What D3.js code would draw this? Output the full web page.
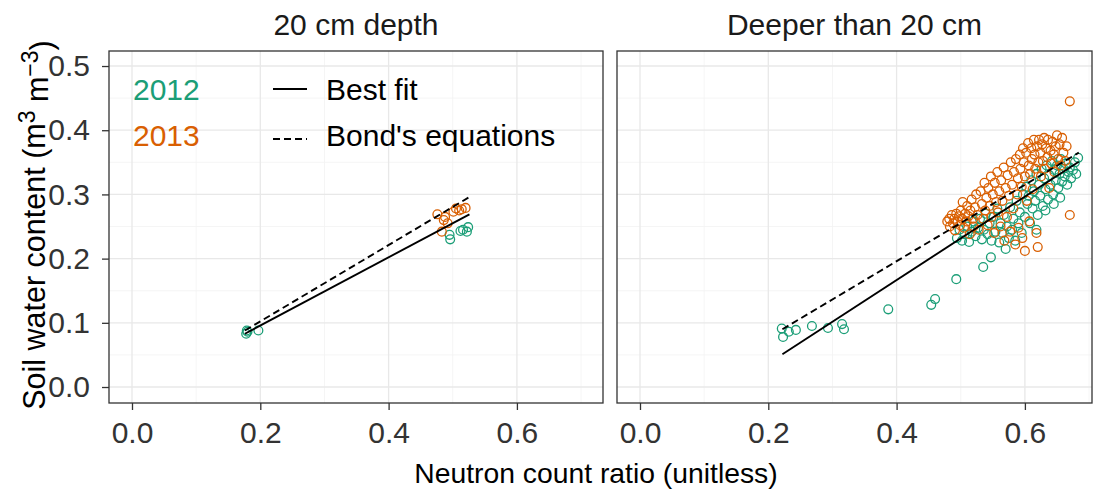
<!DOCTYPE html>
<html><head><meta charset="utf-8">
<script src="https://cdn.jsdelivr.net/npm/d3@7"></script>
<style>body{margin:0;background:#fff}svg{display:block}text{font-family:"Liberation Sans",Arial,sans-serif}</style>
</head><body>
<script>
// ---------- DATA ----------
const panelTitles = ["20 cm depth", "Deeper than 20 cm"];
const xTicks = [0.0, 0.2, 0.4, 0.6];
const yTicks = [0.0, 0.1, 0.2, 0.3, 0.4, 0.5];
const xMinor = [0.1, 0.3, 0.5, 0.7];
const yMinor = [0.05, 0.15, 0.25, 0.35, 0.45];
const years = ["2012", "2013"];
const lineLabels = ["Best fit", "Bond's equations"];

// left panel (20 cm depth)
const left2012 = [[0.178,0.083],[0.180,0.086],[0.179,0.088],[0.197,0.088],
  [0.495,0.237],[0.496,0.230],[0.516,0.245],[0.524,0.249],[0.522,0.242],[0.512,0.243]];
const left2013 = [[0.476,0.269],[0.488,0.265],[0.486,0.260],[0.505,0.278],[0.510,0.275],
  [0.514,0.277],[0.501,0.273],[0.483,0.242],[0.492,0.255],[0.520,0.279]];
const leftFit = [[0.176,0.083],[0.526,0.269]];
const leftBond = [[0.176,0.088],[0.526,0.296]];

// right panel (deeper than 20 cm)
const right2012 = [[0.221,0.091],[0.223,0.078],[0.232,0.086],[0.243,0.089],[0.268,0.095],[0.293,0.092],
  [0.315,0.098],[0.318,0.090],[0.387,0.121],[0.454,0.128],[0.460,0.137],[0.493,0.168],[0.535,0.187],[0.547,0.202],
  [0.494,0.232],[0.498,0.245],[0.502,0.228],[0.506,0.238],[0.510,0.250],[0.513,0.226],[0.517,0.242],[0.520,0.258],
  [0.523,0.235],[0.527,0.248],[0.530,0.262],[0.533,0.230],[0.536,0.245],[0.539,0.270],[0.542,0.238],[0.545,0.255],
  [0.548,0.228],[0.551,0.265],[0.554,0.242],[0.557,0.278],[0.560,0.225],[0.562,0.255],[0.565,0.240],[0.567,0.268],
  [0.570,0.215],[0.572,0.250],[0.575,0.232],[0.577,0.280],[0.580,0.245],[0.582,0.262],[0.585,0.228],[0.587,0.290],
  [0.590,0.255],[0.592,0.272],[0.595,0.240],[0.597,0.300],
  [0.600,0.265],[0.602,0.312],[0.604,0.285],[0.606,0.298],[0.608,0.255],[0.610,0.322],[0.612,0.278],[0.614,0.305],
  [0.616,0.290],[0.618,0.332],[0.620,0.268],[0.622,0.315],[0.624,0.298],[0.626,0.340],[0.628,0.282],[0.630,0.325],
  [0.632,0.308],[0.634,0.345],[0.636,0.292],[0.638,0.330],[0.640,0.315],[0.642,0.352],[0.644,0.300],[0.646,0.338],
  [0.648,0.322],[0.650,0.345],[0.652,0.310],[0.654,0.332],[0.656,0.355],[0.658,0.320],[0.660,0.340],[0.662,0.328],
  [0.664,0.348],[0.666,0.315],[0.668,0.335],[0.670,0.342],[0.672,0.325],[0.675,0.338],[0.678,0.350],[0.680,0.332],
  [0.683,0.357],[0.655,0.295],[0.632,0.275],[0.645,0.285],[0.618,0.245]];
const right2013 = [[0.479,0.258],[0.482,0.262],[0.483,0.250],[0.486,0.268],[0.488,0.255],[0.490,0.262],[0.491,0.244],
  [0.493,0.270],[0.495,0.258],[0.497,0.266],[0.499,0.252],[0.500,0.275],[0.502,0.262],[0.503,0.288],[0.505,0.248],
  [0.507,0.270],[0.509,0.258],[0.510,0.282],[0.512,0.266],[0.514,0.238],[0.515,0.275],[0.517,0.292],[0.519,0.262],
  [0.520,0.250],[0.522,0.280],[0.524,0.300],[0.526,0.268],[0.528,0.245],
  [0.531,0.305],[0.533,0.285],[0.535,0.262],[0.537,0.318],[0.538,0.275],[0.540,0.295],[0.542,0.252],[0.543,0.310],
  [0.545,0.282],[0.547,0.328],[0.548,0.265],[0.550,0.300],[0.552,0.240],[0.553,0.318],[0.555,0.288],[0.557,0.335],
  [0.558,0.272],[0.560,0.305],[0.562,0.250],[0.563,0.322],[0.565,0.290],[0.567,0.342],[0.568,0.228],[0.570,0.310],
  [0.572,0.265],[0.573,0.330],[0.575,0.298],[0.577,0.242],[0.578,0.350],[0.580,0.315],
  [0.582,0.278],[0.583,0.335],[0.585,0.222],[0.586,0.355],[0.588,0.300],[0.589,0.325],[0.590,0.248],[0.592,0.362],
  [0.593,0.340],[0.595,0.312],[0.596,0.232],[0.597,0.372],[0.598,0.350],[0.600,0.212],[0.600,0.328],[0.602,0.365],
  [0.603,0.290],[0.605,0.380],[0.606,0.345],[0.607,0.258],[0.608,0.332],[0.610,0.372],[0.611,0.355],[0.612,0.308],
  [0.614,0.385],[0.615,0.362],[0.616,0.340],[0.618,0.240],[0.619,0.375],[0.620,0.218],[0.621,0.350],[0.622,0.385],
  [0.624,0.365],[0.625,0.328],[0.627,0.378],[0.628,0.352],[0.630,0.388],[0.631,0.340],[0.633,0.372],[0.635,0.358],
  [0.636,0.385],[0.638,0.310],[0.640,0.368],[0.641,0.348],[0.643,0.382],[0.645,0.362],[0.646,0.335],[0.648,0.375],
  [0.650,0.392],[0.652,0.355],[0.654,0.378],[0.656,0.345],[0.658,0.388],[0.660,0.365],[0.663,0.352],[0.665,0.375],
  [0.670,0.445],[0.670,0.268]];
const rightFit = [[0.222,0.051],[0.684,0.351]];
const rightBond = [[0.222,0.090],[0.684,0.365]];

// ---------- LAYOUT ----------
const W = 1110, H = 496;
const colors = {"2012":"#1B9E77","2013":"#D95F02"};
const FONT = "Liberation Sans, Arial, sans-serif";
const svg = d3.select("body").append("svg").attr("width", W).attr("height", H);
svg.append("rect").attr("width", W).attr("height", H).attr("fill", "#fff");

const yScale = d3.scaleLinear().domain([-0.0249, 0.5234]).range([403, 51]);
const panels = [
  {title: panelTitles[0], x0: 109, x1: 603, dom: [-0.03585, 0.7342], p2012: left2012, p2013: left2013, fit: leftFit, bond: leftBond},
  {title: panelTitles[1], x0: 617, x1: 1092, dom: [-0.03585, 0.7046], p2012: right2012, p2013: right2013, fit: rightFit, bond: rightBond}
];

panels.forEach((p, i) => {
  const x = d3.scaleLinear().domain(p.dom).range([p.x0, p.x1]);
  const g = svg.append("g");
  const [yb, yt] = yScale.range();
  // minor grid
  g.selectAll(".mx").data(xMinor.filter(v => v > p.dom[0] && v < p.dom[1])).enter().append("line")
    .attr("x1", d => x(d)).attr("x2", d => x(d)).attr("y1", yt).attr("y2", yb)
    .attr("stroke", "#f3f3f3").attr("stroke-width", 0.8);
  g.selectAll(".my").data(yMinor).enter().append("line")
    .attr("x1", p.x0).attr("x2", p.x1).attr("y1", d => yScale(d)).attr("y2", d => yScale(d))
    .attr("stroke", "#f3f3f3").attr("stroke-width", 0.8);
  // major grid
  g.selectAll(".Mx").data(xTicks).enter().append("line")
    .attr("x1", d => x(d)).attr("x2", d => x(d)).attr("y1", yt).attr("y2", yb)
    .attr("stroke", "#e8e8e8").attr("stroke-width", 1.3);
  g.selectAll(".My").data(yTicks).enter().append("line")
    .attr("x1", p.x0).attr("x2", p.x1).attr("y1", d => yScale(d)).attr("y2", d => yScale(d))
    .attr("stroke", "#e8e8e8").attr("stroke-width", 1.3);

  // points
  [["2012", p.p2012], ["2013", p.p2013]].forEach(([yr, pts]) => {
    g.selectAll(null).data(pts).enter().append("circle")
      .attr("cx", d => x(d[0])).attr("cy", d => yScale(d[1])).attr("r", 4.4)
      .attr("fill", "none").attr("stroke", colors[yr]).attr("stroke-width", 1.3);
  });
  // lines
  const line = d3.line().x(d => x(d[0])).y(d => yScale(d[1]));
  g.append("path").attr("d", line(p.fit)).attr("fill", "none").attr("stroke", "#000").attr("stroke-width", 1.9);
  g.append("path").attr("d", line(p.bond)).attr("fill", "none").attr("stroke", "#000").attr("stroke-width", 1.9)
    .attr("stroke-dasharray", "7,4");

  // border
  g.append("rect").attr("x", p.x0).attr("y", yt).attr("width", p.x1 - p.x0).attr("height", yb - yt)
    .attr("fill", "none").attr("stroke", "#333").attr("stroke-width", 1.3);

  // axes
  const xa = svg.append("g").attr("transform", `translate(0,403)`)
    .call(d3.axisBottom(x).tickValues(xTicks).tickFormat(d3.format(".1f")).tickSize(7).tickPadding(12));
  xa.select(".domain").remove();
  xa.selectAll("line").attr("stroke", "#333").attr("stroke-width", 1.3);
  xa.selectAll("text").attr("font-size", 30).attr("fill", "#333").attr("font-family", FONT);
  if (i === 0) {
    const ya = svg.append("g").attr("transform", `translate(${p.x0},0)`)
      .call(d3.axisLeft(yScale).tickValues(yTicks).tickFormat(d3.format(".1f")).tickSize(7).tickPadding(12));
    ya.select(".domain").remove();
    ya.selectAll("line").attr("stroke", "#333").attr("stroke-width", 1.3);
    ya.selectAll("text").attr("font-size", 30).attr("fill", "#333").attr("font-family", FONT);
  }

  // strip title
  svg.append("text").attr("x", (p.x0 + p.x1) / 2).attr("y", 35).attr("text-anchor", "middle")
    .attr("font-size", 30).attr("fill", "#1a1a1a").text(p.title);
});

// axis titles
svg.append("text").attr("x", 596).attr("y", 483).attr("text-anchor", "middle")
  .attr("font-size", 28.3).attr("fill", "#000").text("Neutron count ratio (unitless)");
const ytt = svg.append("text").attr("transform", "translate(45,225) rotate(-90)").attr("text-anchor", "middle")
  .attr("font-size", 30.5).attr("fill", "#000");
ytt.append("tspan").text("Soil water content (m");
ytt.append("tspan").attr("dy", "-0.45em").attr("font-size", 23).text("3");
ytt.append("tspan").attr("dy", "0.45em").text(" m");
ytt.append("tspan").attr("dy", "-0.45em").attr("font-size", 23).text("\u22123");
ytt.append("tspan").attr("dy", "0.45em").text(")");

// legend
const lg = svg.append("g");
years.forEach((yr, k) => {
  lg.append("text").attr("x", 133).attr("y", 100 + k * 46).attr("font-size", 30).attr("fill", colors[yr]).text(yr);
});
lineLabels.forEach((lab, k) => {
  const yy = 89 + k * 50;
  lg.append("line").attr("x1", 273).attr("x2", 307).attr("y1", yy).attr("y2", yy)
    .attr("stroke", "#000").attr("stroke-width", 1.9).attr("stroke-dasharray", k ? "7,4" : null);
  lg.append("text").attr("x", 326).attr("y", 100 + k * 46).attr("font-size", 30).attr("fill", "#000").text(lab);
});
</script>
</body></html>
